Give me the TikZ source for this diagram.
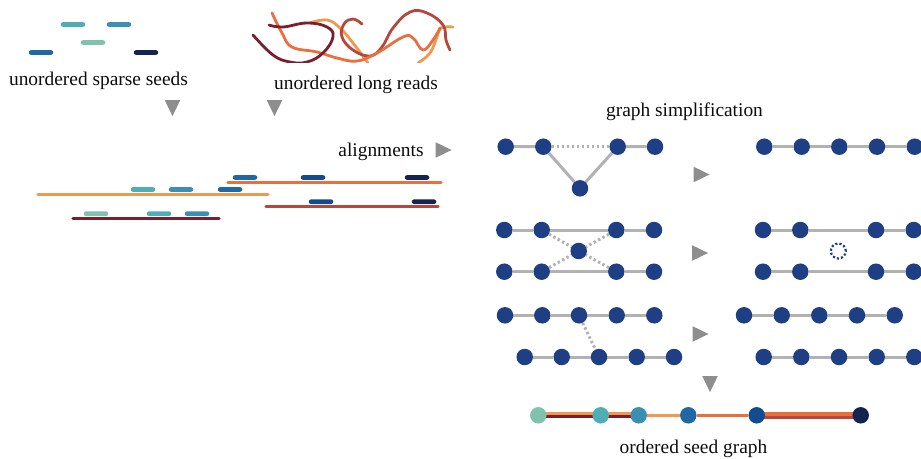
\documentclass[tikz,border=0pt]{standalone}
\usepackage{fontspec}
\setmainfont{Liberation Serif}
\usetikzlibrary{shapes.geometric,backgrounds}
\definecolor{seedA}{HTML}{7FC2AE}
\definecolor{seedB}{HTML}{4FAEB5}
\definecolor{seedC}{HTML}{3A8FB3}
\definecolor{seedD}{HTML}{2068A3}
\definecolor{seedE}{HTML}{124C90}
\definecolor{seedF}{HTML}{13254F}
\definecolor{readA}{HTML}{F0994E}
\definecolor{readB}{HTML}{E8703F}
\definecolor{readC}{HTML}{B5473C}
\definecolor{readD}{HTML}{7A1F2E}
\definecolor{vertexblue}{HTML}{1F3F85}
\definecolor{edgegray}{HTML}{B2B2B2}
\definecolor{arrowgray}{HTML}{8E8E8E}
\tikzset{
  x=1pt,y=-1pt,
  label text/.style={font=\fontsize{19.4}{22}\selectfont,text=black!95,inner sep=0pt},
  seedbar/.style={rectangle,rounded corners=2.2pt,minimum width=24.5pt,minimum height=4.6pt,inner sep=0pt},
  readbar/.style={line width=3.4pt,line cap=round},
  strand/.style={line width=2.8pt,line cap=round,line join=round},
  vertex/.style={circle,fill=vertexblue,minimum size=16.5pt,inner sep=0pt},
  seedvertex/.style={circle,minimum size=16.5pt,inner sep=0pt},
  gone vertex/.style={circle,draw=vertexblue,dotted,line width=2.2pt,minimum size=15pt,inner sep=0pt},
  solid edge/.style={draw=edgegray,line width=3pt},
  dotted edge/.style={draw=edgegray,line width=3pt,dash pattern=on 2.4pt off 2.6pt},
  flow/.style={isosceles triangle,isosceles triangle apex angle=52,fill=arrowgray,inner sep=0pt,minimum height=16pt,anchor=apex},
  flow right/.style={flow},
  flow down/.style={flow,shape border rotate=-90},
}
\begin{document}
\begin{tikzpicture}
\useasboundingbox (0,0) rectangle (921,458);

% Loose seeds
\node[seedbar,fill=seedB] (u1) at (73,24.5) {};
\node[seedbar,fill=seedC] (u2) at (119,24.5) {};
\node[seedbar,fill=seedA] (u3) at (93,42.5) {};
\node[seedbar,fill=seedD] (u4) at (41,52.5) {};
\node[seedbar,fill=seedF] (u5) at (146,52.5) {};

% Tangled long reads, cut off flat along their lower edge
\begin{scope}
\clip (240,0) rectangle (470,62.5);
\draw[strand,readA] plot[smooth,tension=0.7] coordinates {(310,23) (327,20) (340,28) (353,43) (368,63)};
\draw[strand,readA] plot[smooth,tension=0.7] coordinates {(418,63) (430,53) (437,37) (441,28) (453,27)};
\draw[strand,readC] plot[smooth,tension=0.7] coordinates {(362,24) (353,19) (344,24) (342,37) (353,50) (370,56) (382,47) (393,28) (410,12) (427,13) (443,25) (446,40) (450,50)};
\draw[strand,readB] plot[smooth,tension=0.7] coordinates {(272,13) (282,33) (292,47) (317,52) (337,58) (357,61) (377,53) (403,37) (413,38) (423,50) (433,40) (440,28)};
\draw[strand,readD] plot[smooth,tension=0.7] coordinates {(253,35) (273,55) (290,62) (307,62) (323,53) (333,37) (327,27) (307,23) (283,27) (269,25)};
\end{scope}

% Labels
\node[label text] (l1) at (98.5,80.5) {unordered sparse seeds};
\node[label text] (l2) at (356,84.5) {unordered long reads};
\node[label text] (l3) at (381,151.5) {alignments};
\node[label text] (l4) at (684.5,112) {graph simplification};
\node[label text] (l5) at (693.5,448.5) {ordered seed graph};

% Flow markers
\node[flow down] (a1) at (172.5,116.5) {};
\node[flow down] (a2) at (274.5,116.5) {};
\node[flow right] (a3) at (452,150) {};
\node[flow right] (a4) at (710,174.5) {};
\node[flow right] (a5) at (708.5,253) {};
\node[flow right] (a6) at (709,334) {};
\node[flow down] (a7) at (710,392.5) {};

% Reads with the seeds aligned on them
\draw[readbar,readB] (228,182.5) -- (441,182.5);
\draw[readbar,readA] (38,194.7) -- (268,194.7);
\draw[readbar,readC] (266,206.3) -- (438,206.3);
\draw[readbar,readD] (73,218.7) -- (219,218.7);
\node[seedbar,fill=seedD] (p1) at (245,177.5) {};
\node[seedbar,fill=seedE] (p2) at (313,177.5) {};
\node[seedbar,fill=seedF] (p3) at (417,177.5) {};
\node[seedbar,fill=seedB] (p4) at (143,189.5) {};
\node[seedbar,fill=seedC] (p5) at (181,189.5) {};
\node[seedbar,fill=seedD] (p6) at (230,189.5) {};
\node[seedbar,fill=seedE] (p7) at (321,201.7) {};
\node[seedbar,fill=seedF] (p8) at (424,201.7) {};
\node[seedbar,fill=seedA] (p9) at (96,213.7) {};
\node[seedbar,fill=seedB] (p10) at (159,213.7) {};
\node[seedbar,fill=seedC] (p11) at (197,213.7) {};

% Transitive edge removal
\foreach \n/\x in {a/505.7,b/543.3,c/617.7,d/655} \node[vertex] (t\n) at (\x,146.7) {};
\node[vertex] (te) at (580,188.3) {};
\foreach \n/\x in {a/764.3,b/801.7,c/839.3,d/877,e/914.7} \node[vertex] (tr\n) at (\x,146.7) {};

% Resolving a shared vertex
\foreach \n/\x in {a/504.3,b/541.7,c/616.3,d/654} {
  \node[vertex] (m\n) at (\x,230) {};
  \node[vertex] (n\n) at (\x,271.7) {};
}
\node[vertex] (mx) at (578.7,251) {};
\foreach \n/\x in {a/763,b/800.3,c/876,d/913.7} {
  \node[vertex] (mr\n) at (\x,230) {};
  \node[vertex] (nr\n) at (\x,271.7) {};
}
\node[gone vertex] (gone) at (838.3,251) {};

% Separating two parallel paths
\foreach \n/\x in {a/505,b/542.3,c/579,d/616.7,e/654.3} \node[vertex] (q\n) at (\x,315.3) {};
\foreach \n/\x in {a/524.7,b/561.7,c/599,d/636.7,e/674} \node[vertex] (w\n) at (\x,357) {};
\foreach \n/\x in {a/744,b/781.7,c/819.3,d/857,e/894.7} \node[vertex] (qr\n) at (\x,315.3) {};
\foreach \n/\x in {a/763.7,b/801.3,c/839,d/876.7,e/914.3} \node[vertex] (wr\n) at (\x,357) {};

% Ordered seed chain
\node[seedvertex,fill=seedA] (f1) at (538.3,415.3) {};
\node[seedvertex,fill=seedB] (f2) at (600.7,415.3) {};
\node[seedvertex,fill=seedC] (f3) at (638.7,415.3) {};
\node[seedvertex,fill=seedD] (f4) at (688.3,415.3) {};
\node[seedvertex,fill=seedE] (f5) at (756.7,415.3) {};
\node[seedvertex,fill=seedF] (f6) at (860.7,415.3) {};

\begin{scope}[on background layer]
  \path[solid edge] (ta) -- (tb) (tb) -- (te) (te) -- (tc) (tc) -- (td);
  \path[dotted edge] (tb) -- (tc);
  \path[solid edge] (tra) -- (trb) -- (trc) -- (trd) -- (tre);
  \path[solid edge] (ma) -- (mb) -- (mc) -- (md) (na) -- (nb) -- (nc) -- (nd);
  \path[dotted edge] (mb) -- (mx) (mc) -- (mx) (nb) -- (mx) (nc) -- (mx);
  \path[solid edge] (mra) -- (mrb) -- (mrc) -- (mrd) (nra) -- (nrb) -- (nrc) -- (nrd);
  \path[solid edge] (qa) -- (qb) -- (qc) -- (qd) -- (qe) (wa) -- (wb) -- (wc) -- (wd) -- (we);
  \path[dotted edge] (qc) -- (wc);
  \path[solid edge] (qra) -- (qrb) -- (qrc) -- (qrd) -- (qre) (wra) -- (wrb) -- (wrc) -- (wrd) -- (wre);
  % Chain edges: each is coloured by the reads that support it
  \draw[readA,line width=3pt] ([yshift=1.6pt]f1.center) -- ([yshift=1.6pt]f3.center);
  \draw[readD,line width=3pt] ([yshift=-1.6pt]f1.center) -- ([yshift=-1.6pt]f3.center);
  \draw[readA,line width=3pt] (f3) -- (f4);
  \draw[readB,line width=3pt] (f4) -- (f5);
  \draw[readB,line width=4pt] ([yshift=1.2pt]f5.center) -- ([yshift=1.2pt]f6.center);
  \draw[readC,line width=3pt] ([yshift=-2pt]f5.center) -- ([yshift=-2pt]f6.center);
\end{scope}
\end{tikzpicture}
\end{document}
